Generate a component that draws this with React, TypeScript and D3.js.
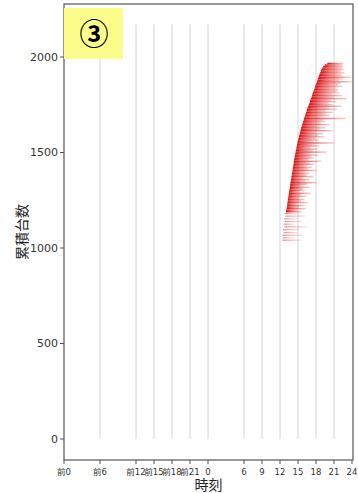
import React from 'react';
import * as d3 from 'd3';

// cumulative count of each sampled vehicle row
const cumCounts = [
  1040, 1052, 1066, 1080, 1095, 1110, 1124, 1138, 1152, 1166, 1180,
  1190, 1198, 1206, 1214, 1222, 1230, 1238, 1246, 1254, 1262,
  1270, 1278, 1286, 1294, 1302, 1310, 1318, 1326, 1334, 1342,
  1350, 1358, 1366, 1374, 1382, 1390, 1398, 1406, 1414, 1422,
  1430, 1438, 1446, 1454, 1462, 1470, 1478, 1486, 1494, 1502,
  1510, 1518, 1526, 1534, 1542, 1550, 1558, 1566, 1574, 1582,
  1590, 1598, 1606, 1614, 1622, 1630, 1638, 1646, 1654, 1662,
  1670, 1678, 1686, 1694, 1702, 1710, 1718, 1726, 1734, 1742,
  1750, 1758, 1766, 1774, 1782, 1790, 1798, 1806, 1814, 1822,
  1830, 1838, 1846, 1854, 1862, 1870, 1878, 1886, 1894, 1902,
  1910, 1918, 1926, 1934, 1942, 1950, 1958, 1966,
];

// start hour of each row
const startHours = [
  12.4, 12.5, 12.4, 12.6, 12.5, 12.7, 12.6, 12.8, 12.7, 12.9, 12.8,
  13.0, 13.05, 13.1, 13.15, 13.2, 13.2, 13.25, 13.3, 13.3, 13.35,
  13.4, 13.45, 13.5, 13.5, 13.55, 13.6, 13.65, 13.7, 13.7, 13.75,
  13.8, 13.85, 13.9, 13.9, 13.95, 14.0, 14.05, 14.1, 14.1, 14.15,
  14.2, 14.25, 14.3, 14.3, 14.35, 14.4, 14.45, 14.5, 14.55, 14.6,
  14.65, 14.7, 14.75, 14.8, 14.85, 14.9, 14.95, 15.0, 15.1, 15.15,
  15.2, 15.3, 15.35, 15.4, 15.5, 15.55, 15.65, 15.7, 15.8, 15.85,
  15.95, 16.0, 16.1, 16.2, 16.25, 16.35, 16.45, 16.5, 16.6, 16.7,
  16.8, 16.9, 17.0, 17.05, 17.15, 17.25, 17.35, 17.4, 17.5, 17.6,
  17.7, 17.8, 17.85, 17.95, 18.05, 18.15, 18.25, 18.3, 18.4, 18.5,
  18.6, 18.7, 18.8, 18.9, 19.05, 19.2, 19.45, 19.9,
];

// end hour of each row
const endHours = [
  15.6, 14.3, 16.0, 14.9, 15.2, 16.6, 14.6, 15.8, 14.8, 16.2, 15.0,
  15.6, 14.85, 16.3, 15.15, 16.1, 14.8, 16.65, 15.5, 16.1, 15.25,
  16.4, 15.55, 17.1, 15.3, 16.25, 15.9, 16.95, 15.7, 16.6, 18.15,
  16.2, 16.95, 15.8, 17.6, 16.45, 16.9, 16.25, 18.1, 16.7, 17.35,
  16.5, 17.75, 17.0, 18.9, 16.75, 17.7, 17.25, 18.4, 17.05, 19.8,
  17.55, 18.3, 17.15, 18.6, 17.85, 21.1, 17.55, 18.5, 17.9, 19.45,
  18.3, 19.2, 18.05, 20.8, 18.7, 19.55, 18.55, 20.3, 18.8, 19.55,
  19.25, 23.0, 19.1, 20.4, 19.65, 20.85, 19.55, 21.5, 20.2, 22.3,
  20.8, 20.1, 21.4, 20.55, 23.15, 20.95, 22.35, 20.8, 21.9, 21.5,
  21.7, 21.3, 22.45, 21.65, 22.15, 23.95, 21.85, 22.6, 23.9, 22.4,
  22.2, 22.7, 22.2, 22.7, 22.45, 22.6, 22.45, 22.6,
];

// hours: previous day shown as -24..0
const xTickValues = [-24, -18, -12, -9, -6, -3, 0, 6, 9, 12, 15, 18, 21, 24];
const xTickLabels = ['前0', '前6', '前12', '前15', '前18', '前21', '0', '6', '9', '12', '15', '18', '21', '24'];
const guideHours = [-18, -12, -9, -6, -3, 0, 6, 9, 12, 15, 18, 21];
const guideTop = 2170;
const yTickValues = [0, 500, 1000, 1500, 2000];

const W = 358;
const H = 493;
const frame = { left: 64, right: 353, top: 4, bottom: 460 };
const FONT = '"DejaVu Sans", "Noto Sans CJK JP", sans-serif';

export default function App() {
  const x = d3.scaleLinear().domain([-24, 24]).range([frame.left, frame.right - 1]);
  const y = d3.scaleLinear().domain([0, 2000]).range([439, 57]);
  const rowH = 1.5;

  return (
    <svg width={W} height={H} style={{ position: 'absolute', left: 0, top: 0, background: '#fff' }} fontFamily={FONT}>
      <defs>
        <linearGradient id="rowFade" x1="0" x2="1" y1="0" y2="0">
          <stop offset="0" stopColor="#cc0000" stopOpacity={0.95} />
          <stop offset="0.3" stopColor="#dd1111" stopOpacity={0.72} />
          <stop offset="1" stopColor="#e83030" stopOpacity={0.22} />
        </linearGradient>
      </defs>

      {/* guide lines */}
      {guideHours.map((h) => (
        <line key={h} x1={x(h)} x2={x(h)} y1={y(0)} y2={y(guideTop)} stroke="#d4d4d4" strokeWidth={1} />
      ))}

      {/* vehicle rows; the sparse early arrivals are drawn lighter */}
      <g fill="url(#rowFade)">
        {cumCounts.map((c, i) => (
          <rect key={c} x={x(startHours[i])} width={x(endHours[i]) - x(startHours[i])}
            y={y(c) - rowH / 2} height={c < 1185 ? 1.2 : rowH} opacity={c < 1185 ? 0.5 : 1} />
        ))}
      </g>

      {/* frame */}
      <rect x={frame.left} y={frame.top} width={frame.right - frame.left} height={frame.bottom - frame.top}
        fill="none" stroke="#555" strokeWidth={1.2} />

      {/* y axis */}
      {yTickValues.map((v) => (
        <g key={v}>
          <line x1={frame.left - 4} x2={frame.left} y1={y(v)} y2={y(v)} stroke="#555" strokeWidth={1} />
          <text x={frame.left - 6} y={y(v)} dy="0.35em" textAnchor="end" fontSize={11} fill="#333">{v}</text>
        </g>
      ))}
      <text transform={`translate(22,${(frame.top + frame.bottom) / 2}) rotate(-90)`} textAnchor="middle"
        dy="0.35em" fontSize={14} fill="#222">累積台数</text>

      {/* x axis */}
      {xTickValues.map((v, i) => (
        <g key={v}>
          <line x1={x(v)} x2={x(v)} y1={frame.bottom} y2={frame.bottom + 4} stroke="#555" strokeWidth={1} />
          <text x={x(v)} y={frame.bottom + 12} dy="0.35em" textAnchor="middle" fontSize={8.5} fill="#333">{xTickLabels[i]}</text>
        </g>
      ))}
      <text x={(frame.left + frame.right) / 2} y={485} dy="0.35em" textAnchor="middle" fontSize={14} fill="#222">時刻</text>

      {/* panel badge */}
      <rect x={frame.left} y={8} width={59} height={51} fill="#fdfd8c" />
      <text x={frame.left + 30} y={35} dy="0.35em" textAnchor="middle" fontSize={29} fontWeight="bold"
        fontFamily='"Noto Sans CJK JP", sans-serif' fill="#000">③</text>
    </svg>
  );
}
